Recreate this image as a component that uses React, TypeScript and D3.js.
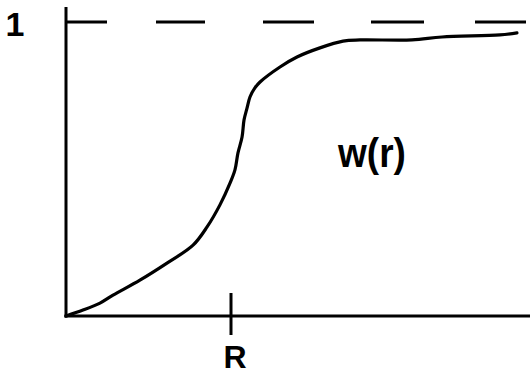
import React from "react";
import * as d3 from "d3";

// r measured in units of R (R = 1); w(r) normalised so the asymptote is 1
const rValues = [0, 0.103, 0.206, 0.285, 0.448, 0.612, 0.77, 0.855, 0.933, 0.994, 1.024, 1.042, 1.067, 1.079, 1.097, 1.115, 1.145, 1.176, 1.297, 1.4, 1.539, 1.679, 1.782, 2.097, 2.279, 2.63, 2.733];
const wValues = [0, 0.02, 0.044, 0.071, 0.122, 0.18, 0.241, 0.303, 0.378, 0.452, 0.497, 0.554, 0.609, 0.667, 0.707, 0.745, 0.776, 0.796, 0.847, 0.881, 0.912, 0.935, 0.939, 0.939, 0.949, 0.956, 0.963];
const xTickValues = [1];
const xTickLabels = ["R"];
const yTickValues = [1];
const yTickLabels = ["1"];
const curveLabel = "w(r)";
const rMax = 2.82;

const W = 530;
const H = 376;

export default function App() {
  const x = d3.scaleLinear().domain([0, rMax]).range([66, 66 + rMax * 165]);
  const y = d3.scaleLinear().domain([0, 1]).range([316, 22]);
  const pts: [number, number][] = rValues.map((r, i) => [r, wValues[i]]);
  const line = d3
    .line<[number, number]>()
    .x((d) => x(d[0]))
    .y((d) => y(d[1]))
    .curve(d3.curveCatmullRom.alpha(0.5));
  const font = "'Liberation Sans', Arial, sans-serif";
  return (
    <svg width={W} height={H} style={{ position: "absolute", left: 0, top: 0, background: "#fff" }}>
      {/* asymptote */}
      {yTickValues.map((v) => (
        <line key={"a" + v} x1={x(0)} x2={W} y1={y(v)} y2={y(v)} stroke="#000" strokeWidth={3}
          strokeDasharray="41 49 49 58 51 57 53 51 51 20" />
      ))}
      {/* axes */}
      <line x1={x(0)} x2={x(0)} y1={7} y2={y(0) + 1.5} stroke="#000" strokeWidth={3} />
      <line x1={x(0) - 1.5} x2={W} y1={y(0)} y2={y(0)} stroke="#000" strokeWidth={3} />
      {/* x ticks */}
      {xTickValues.map((v, i) => (
        <g key={"x" + v}>
          <line x1={x(v)} x2={x(v)} y1={293} y2={335} stroke="#000" strokeWidth={3} />
          <text x={x(v) + 4} y={368} textAnchor="middle" fontFamily={font} fontWeight="bold" fontSize={32}>
            {xTickLabels[i]}
          </text>
        </g>
      ))}
      {/* y ticks */}
      {yTickValues.map((v, i) => (
        <text key={"y" + v} x={15} y={y(v) + 14} textAnchor="middle" fontFamily={font} fontWeight="bold" fontSize={34}>
          {yTickLabels[i]}
        </text>
      ))}
      <path d={line(pts) || ""} fill="none" stroke="#000" strokeWidth={3.2} strokeLinejoin="round" strokeLinecap="round" />
      <text transform="translate(372,167) scale(1,1.08)" textAnchor="middle" fontFamily={font} fontWeight="bold" fontSize={37}>
        {curveLabel}
      </text>
    </svg>
  );
}
